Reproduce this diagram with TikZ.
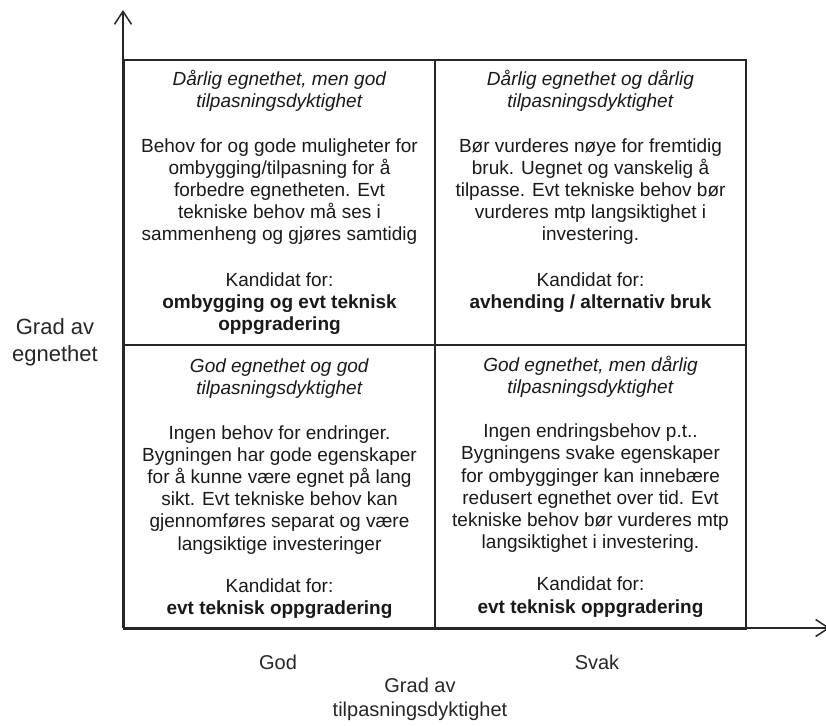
\documentclass[tikz,border=0pt]{standalone}
\usepackage{fontspec}
\setmainfont{Liberation Sans}
\usetikzlibrary{arrows.meta}
\begin{document}
\begin{tikzpicture}[x=1pt,y=-1pt,
  frame/.style={draw=black!85, line width=2pt},
  quad/.style={frame, minimum width=311pt, minimum height=284.5pt, inner sep=0pt, anchor=north west},
  qtext/.style={anchor=north, align=center, inner sep=0pt, font=\fontsize{19}{22.2}\selectfont, text=black!90},
  axis/.style={draw=black!85, line width=1.5pt, -{Straight Barb[length=13pt,width=17pt,line width=1.5pt]}},
  lab/.style={align=center, font=\fontsize{20}{24}\selectfont, text=black!85}]
\useasboundingbox (0,0) rectangle (826,725);
\coordinate (o) at (123,628);
\coordinate (ytip) at (123,10);
\coordinate (xtip) at (830,628);
\draw[axis] (o) -- (ytip);
\draw[axis] (o) -- (xtip);
\node[quad] (q1) at (123,59) {};
\node[quad] (q2) at (434,59) {};
\node[quad] (q3) at (123,343.5) {};
\node[quad] (q4) at (434,343.5) {};
\node[qtext] (t1) at ([yshift=-11pt]q1.north) {\textit{Dårlig egnethet, men god}\\ \textit{tilpasningsdyktighet}\\[22.2pt]
Behov for og gode muligheter for\\ ombygging/tilpasning for å\\ forbedre egnetheten. Evt\\ tekniske behov må ses i\\ sammenheng og gjøres samtidig\\[23pt]
Kandidat for:\\ \textbf{ombygging og evt teknisk}\\ \textbf{oppgradering}};
\node[qtext] (t2) at ([yshift=-11pt]q2.north) {\textit{Dårlig egnethet og dårlig}\\ \textit{tilpasningsdyktighet}\\[22.2pt]
Bør vurderes nøye for fremtidig\\ bruk. Uegnet og vanskelig å\\ tilpasse. Evt tekniske behov bør\\ vurderes mtp langsiktighet i\\ investering.\\[23pt]
Kandidat for:\\ \textbf{avhending / alternativ bruk}};
\node[qtext] (t3) at ([yshift=-15pt]q3.north) {\textit{God egnethet og god}\\ \textit{tilpasningsdyktighet}\\[22.2pt]
Ingen behov for endringer.\\ Bygningen har gode egenskaper\\ for å kunne være egnet på lang\\ sikt. Evt tekniske behov kan\\ gjennomføres separat og være\\ langsiktige investeringer\\[20pt]
Kandidat for:\\ \textbf{evt teknisk oppgradering}};
\node[qtext] (t4) at ([yshift=-12pt]q4.north) {\textit{God egnethet, men dårlig}\\ \textit{tilpasningsdyktighet}\\[22.2pt]
Ingen endringsbehov p.t..\\ Bygningens svake egenskaper\\ for ombygginger kan innebære\\ redusert egnethet over tid. Evt\\ tekniske behov bør vurderes mtp\\ langsiktighet i investering.\\[20pt]
Kandidat for:\\ \textbf{evt teknisk oppgradering}};
\node[lab, font=\fontsize{22}{27}\selectfont] (ly) at (55,342) {Grad av\\ egnethet};
\node[lab] (lgod) at (278,662) {God};
\node[lab] (lsvak) at (597,662) {Svak};
\node[lab] (lx) at (420,699) {Grad av\\ tilpasningsdyktighet};
\end{tikzpicture}
\end{document}
